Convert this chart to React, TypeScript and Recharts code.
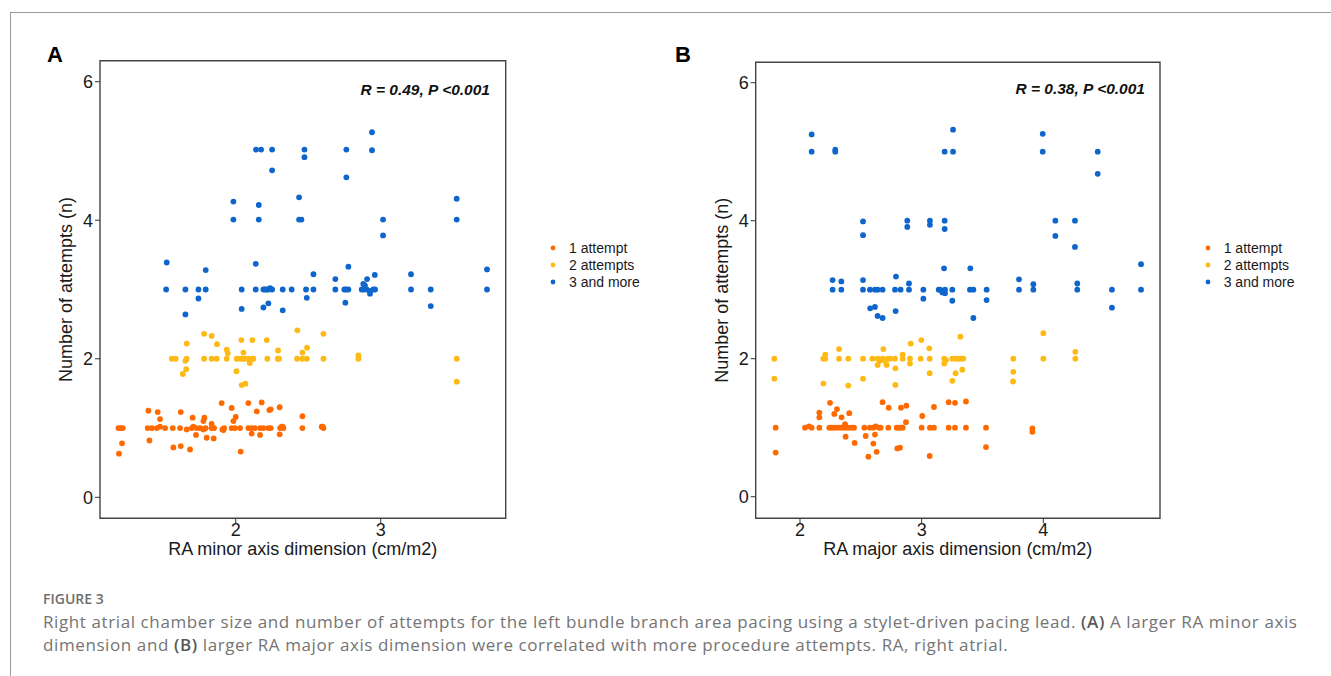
import React from 'react';
import { ScatterChart, Scatter, XAxis, YAxis, ReferenceArea, Legend } from 'recharts';

type Pair = [number, number];

// Panel A: RA minor axis dimension (cm/m2) vs number of attempts
const minorOne: Pair[] = [
  [1.191, 1], [1.207, 1], [1.221, 1], [1.393, 1], [1.421, 1], [1.455, 1], [1.478, 1.02],
  [1.513, 1], [1.566, 1], [1.616, 1], [1.662, 0.98], [1.697, 1], [1.708, 1.02], [1.731, 1],
  [1.754, 1], [1.777, 0.98], [1.793, 1], [1.834, 1], [1.851, 1], [1.908, 0.98], [1.92, 1],
  [1.972, 1], [1.995, 1], [2.03, 1], [2.087, 1], [2.11, 1], [2.133, 1], [2.168, 1],
  [2.191, 1], [2.225, 1], [2.241, 1], [2.306, 1], [2.317, 1.02], [2.329, 1], [2.46, 1],
  [2.593, 1.02], [2.605, 1],
  [1.195, 0.63], [1.216, 0.78], [1.398, 1.25], [1.405, 0.82], [1.462, 1.23], [1.478, 1.13],
  [1.57, 0.72], [1.621, 0.74], [1.621, 1.23], [1.685, 0.69], [1.703, 1.15], [1.726, 0.9],
  [1.777, 1.1], [1.784, 1.15], [1.8, 0.86], [1.834, 1.06], [1.848, 0.85], [1.903, 1.36],
  [1.915, 0.97], [1.972, 1.29], [1.984, 1.1], [2.0, 1.16], [2.034, 0.66], [2.087, 1.36],
  [2.11, 0.92], [2.145, 1.24], [2.168, 0.9], [2.179, 1.37], [2.232, 1.26], [2.241, 1.27],
  [2.303, 1.3], [2.303, 0.91], [2.324, 1.02], [2.46, 1.17], [2.6, 1.02],
];

const minorTwo: Pair[] = [
  [1.559, 2], [1.586, 2], [1.653, 1.97], [1.662, 2], [1.782, 2], [1.834, 2], [1.869, 2],
  [1.938, 2], [2.007, 2], [2.03, 2], [2.048, 2], [2.064, 2], [2.087, 2], [2.11, 2],
  [2.122, 2], [2.218, 2], [2.29, 2], [2.299, 2], [2.423, 2], [2.46, 2], [2.49, 2],
  [2.605, 2], [2.846, 2], [3.524, 2],
  [1.635, 1.78], [1.658, 1.85], [1.662, 2.22], [1.782, 2.36], [1.834, 2.33], [1.871, 2.21],
  [1.938, 2.13], [1.945, 2.08], [2.005, 1.82], [2.039, 2.27], [2.053, 2.09], [2.041, 1.62],
  [2.067, 1.64], [2.097, 1.94], [2.115, 2.27], [2.214, 2.27], [2.292, 2.12], [2.425, 2.41],
  [2.46, 2.09], [2.492, 2.16], [2.605, 2.36], [2.846, 2.05], [3.524, 1.67],
];

const minorThree: Pair[] = [
  [1.52, 3], [1.653, 3], [1.743, 3], [1.793, 3], [2.041, 3], [2.138, 3], [2.191, 3],
  [2.202, 3], [2.214, 3], [2.225, 3], [2.237, 3.02], [2.251, 3], [2.324, 3], [2.386, 3],
  [2.485, 3], [2.536, 3], [2.687, 3], [2.749, 3], [2.761, 3], [2.777, 3], [2.869, 3],
  [2.88, 3], [2.903, 3], [2.926, 2.98], [2.949, 3], [2.961, 3], [3.209, 3], [3.345, 3],
  [3.733, 3],
  [1.743, 2.87], [1.653, 2.64], [2.041, 2.72], [2.191, 2.74], [2.225, 2.8], [2.324, 2.7],
  [2.49, 2.88], [2.756, 2.81], [3.345, 2.76], [2.926, 2.94], [2.891, 3.06],
  [1.524, 3.39], [1.793, 3.28], [1.984, 4.27], [1.984, 4.01], [2.14, 5.02], [2.175, 5.02],
  [2.159, 4.22], [2.159, 4.01], [2.138, 3.37], [2.251, 5.02], [2.251, 4.72], [2.474, 5.02],
  [2.474, 4.91], [2.437, 4.33], [2.437, 4.01], [2.453, 4.01], [2.536, 3.22], [2.687, 3.15],
  [2.763, 5.02], [2.763, 4.62], [2.777, 3.33], [2.94, 5.27], [2.94, 5.01], [3.016, 4.01],
  [3.016, 3.78], [2.906, 3.15], [2.959, 3.21], [2.88, 3.08], [3.209, 3.22], [3.524, 4.31],
  [3.524, 4.01], [3.733, 3.29],
];

// Panel B: RA major axis dimension (cm/m2) vs number of attempts
const majorOne: Pair[] = [
  [1.8, 1], [2.041, 1], [2.074, 1.02], [2.096, 1], [2.159, 1], [2.241, 1], [2.26, 1],
  [2.279, 1], [2.301, 1], [2.329, 1], [2.348, 1], [2.37, 1], [2.397, 1], [2.425, 1],
  [2.444, 1], [2.529, 1], [2.575, 1], [2.603, 1], [2.622, 1.02], [2.649, 1], [2.663, 1],
  [2.726, 1], [2.795, 1], [2.808, 1], [2.83, 1], [2.844, 1], [3.0, 1], [3.068, 1],
  [3.101, 1], [3.222, 1], [3.274, 1], [3.364, 1], [3.529, 1], [3.91, 0.99], [3.91, 0.94],
  [1.8, 0.64], [2.159, 1.22], [2.159, 1.15], [2.247, 1.36], [2.282, 1.2], [2.304, 1.27],
  [2.342, 1.15], [2.37, 1.05], [2.405, 1.21], [2.375, 0.87], [2.449, 0.78], [2.54, 0.88],
  [2.562, 0.58], [2.603, 0.77], [2.616, 0.9], [2.63, 0.65], [2.679, 1.37], [2.729, 1.29],
  [2.8, 0.7], [2.822, 0.71], [2.83, 1.29], [2.874, 1.32], [2.871, 1.08], [3.005, 1.17],
  [3.066, 0.59], [3.101, 1.3], [3.222, 1.37], [3.274, 1.36], [3.364, 1.38], [3.529, 0.72],
];

const majorTwo: Pair[] = [
  [1.789, 2], [2.192, 2], [2.208, 2], [2.321, 2], [2.397, 2], [2.518, 2], [2.595, 2],
  [2.638, 2], [2.658, 1.97], [2.679, 2], [2.699, 1.97], [2.721, 2], [2.74, 2], [2.781, 2],
  [2.844, 2], [2.904, 2], [2.992, 2], [3.066, 2], [3.186, 2], [3.2, 1.98], [3.252, 2],
  [3.282, 2], [3.301, 2], [3.321, 2], [3.342, 2], [3.753, 2], [4.0, 2], [4.263, 2],
  [1.789, 1.71], [2.208, 2.06], [2.192, 1.64], [2.321, 2.14], [2.397, 1.61], [2.518, 1.71],
  [2.638, 1.91], [2.685, 2.14], [2.712, 1.91], [2.784, 1.86], [2.784, 1.62], [2.844, 2.06],
  [2.91, 2.22], [2.904, 1.93], [2.997, 2.27], [3.063, 2.15], [3.066, 1.79], [3.186, 1.93],
  [3.252, 1.68], [3.279, 1.79], [3.318, 2.32], [3.334, 1.84], [3.753, 1.81], [3.751, 1.67],
  [4.0, 2.37], [4.263, 2.1],
];

const majorThree: Pair[] = [
  [2.268, 3], [2.34, 3], [2.518, 3], [2.575, 3], [2.616, 3], [2.638, 3], [2.679, 3],
  [2.781, 3], [2.827, 3], [2.896, 3], [3.014, 3], [3.14, 3], [3.151, 3], [3.17, 2.98],
  [3.192, 3], [3.252, 3], [3.397, 3], [3.425, 3], [3.534, 3], [3.8, 3], [3.918, 3],
  [4.279, 3], [4.564, 3], [4.803, 3],
  [2.577, 2.73], [2.616, 2.75], [2.638, 2.62], [2.679, 2.59], [2.786, 2.69], [3.014, 2.87],
  [3.252, 2.84], [3.425, 2.59], [3.534, 2.85], [4.564, 2.74], [3.17, 2.96], [3.192, 2.95],
  [2.096, 5.25], [2.096, 5.0], [2.29, 5.03], [2.29, 5.0], [2.518, 3.99], [2.518, 3.79],
  [2.518, 3.14], [2.268, 3.14], [2.34, 3.12], [2.789, 3.19], [2.882, 4.0], [2.882, 3.91],
  [2.896, 3.09], [3.068, 4.0], [3.068, 3.94], [3.189, 4.0], [3.189, 3.88], [3.189, 5.0],
  [3.258, 5.32], [3.258, 5.0], [3.184, 3.31], [3.4, 3.31], [3.8, 3.15], [3.918, 3.08],
  [3.995, 5.26], [3.995, 5.0], [4.099, 4.0], [4.099, 3.78], [4.26, 4.0], [4.26, 3.62],
  [4.279, 3.09], [4.447, 5.0], [4.447, 4.68], [4.803, 3.37],
];

const groupNames = ['1 attempt', '2 attempts', '3 and more'];
const yTicks = [0, 2, 4, 6];
const minorTicks = [2, 3];
const majorTicks = [2, 3, 4];

const ORANGE = '#ff6a00';
const YELLOW = '#ffb914';
const BLUE = '#0e66cc';
const SANS = '"Liberation Sans", Arial, sans-serif';

const toPoints = (pairs: Pair[]) => pairs.map(([x, y]) => ({ x, y }));

interface PanelProps {
  left: number;
  width: number;
  margin: { top: number; right: number; bottom: number; left: number };
  xDomain: [number, number];
  yDomain: [number, number];
  xTicks: number[];
  xTitle: string;
  stat: string;
  statRight: number;
  statBaseline: number;
  legendLeft: number;
  one: Pair[];
  two: Pair[];
  three: Pair[];
}

const Panel = (p: PanelProps) => {
  const dot = (color: string) => (props: any) => (
    <circle cx={props.cx} cy={props.cy} r={2.9} fill={color} />
  );

  const renderLegend = (props: any) => (
    <div style={{ fontFamily: SANS, fontSize: 14, color: '#1a1a1a' }}>
      {(props.payload || []).map((entry: any) => (
        <div key={entry.value} style={{ display: 'flex', alignItems: 'center', height: 17 }}>
          <svg width={10} height={10}>
            <circle cx={5} cy={5} r={2.4} fill={entry.color} />
          </svg>
          <span style={{ marginLeft: 11 }}>{entry.value}</span>
        </div>
      ))}
    </div>
  );

  return (
    <div style={{ position: 'absolute', left: p.left, top: 0 }}>
      <ScatterChart width={p.width} height={570} margin={p.margin}>
        <XAxis
          type="number"
          dataKey="x"
          domain={p.xDomain}
          ticks={p.xTicks}
          allowDataOverflow
          axisLine={false}
          tickSize={5}
          tickMargin={0}
          tickLine={{ stroke: '#333' }}
          tick={{ fontSize: 18, fill: '#1a1a1a', fontFamily: SANS }}
          height={40}
          label={{
            content: (props: any) => {
              const vb = props.viewBox;
              return (
                <text
                  x={vb.x + vb.width / 2}
                  y={vb.y + 36.7}
                  textAnchor="middle"
                  fontSize={18}
                  fill="#1a1a1a"
                  fontFamily={SANS}
                >
                  {p.xTitle}
                </text>
              );
            },
          }}
        />
        <YAxis
          type="number"
          dataKey="y"
          domain={p.yDomain}
          ticks={yTicks}
          allowDataOverflow
          axisLine={false}
          tickSize={5}
          tickMargin={2}
          tickLine={{ stroke: '#333' }}
          tick={{ fontSize: 18, fill: '#1a1a1a', fontFamily: SANS }}
          width={40}
          label={{
            content: (props: any) => {
              const vb = props.viewBox;
              const bx = vb.x + vb.width - 28;
              const cy = vb.y + vb.height / 2;
              return (
                <text
                  x={bx}
                  y={cy}
                  transform={`rotate(-90, ${bx}, ${cy})`}
                  textAnchor="middle"
                  fontSize={18}
                  fill="#1a1a1a"
                  fontFamily={SANS}
                >
                  Number of attempts (n)
                </text>
              );
            },
          }}
        />
        <ReferenceArea
          x1={p.xDomain[0]}
          x2={p.xDomain[1]}
          y1={p.yDomain[0]}
          y2={p.yDomain[1]}
          fill="none"
          stroke="#444"
          strokeWidth={1.4}
          ifOverflow="visible"
          label={{
            content: (props: any) => {
              const vb = props.viewBox;
              return (
                <text
                  x={vb.x + vb.width - p.statRight}
                  y={vb.y + p.statBaseline}
                  textAnchor="end"
                  fontSize={15.5}
                  fontWeight="bold"
                  fontStyle="italic"
                  fill="#111"
                  fontFamily={SANS}
                >
                  {p.stat}
                </text>
              );
            },
          }}
        />
        <Scatter name={groupNames[0]} data={toPoints(p.one)} fill={ORANGE} shape={dot(ORANGE)} isAnimationActive={false} />
        <Scatter name={groupNames[1]} data={toPoints(p.two)} fill={YELLOW} shape={dot(YELLOW)} isAnimationActive={false} />
        <Scatter name={groupNames[2]} data={toPoints(p.three)} fill={BLUE} shape={dot(BLUE)} isAnimationActive={false} />
        <Legend
          layout="vertical"
          align="center"
          verticalAlign="middle"
          content={renderLegend}
          wrapperStyle={{ left: p.legendLeft, top: 239.5, width: 'auto' }}
        />
      </ScatterChart>
    </div>
  );
};

export default function App() {
  return (
    <div
      style={{
        position: 'absolute',
        left: 0,
        top: 0,
        width: 1331,
        height: 676,
        background: '#fff',
        overflow: 'hidden',
      }}
    >
      <div style={{ position: 'absolute', left: 10, top: 12, right: 0, borderTop: '1px solid #9a9a9a' }} />
      <div style={{ position: 'absolute', left: 10, top: 12, bottom: 0, borderLeft: '1px solid #9a9a9a' }} />

      <Panel
        left={0}
        width={680}
        margin={{ top: 60.7, right: 174.3, bottom: 11.7, left: 60 }}
        xDomain={[1.064, 3.862]}
        yDomain={[-0.303, 6.303]}
        xTicks={minorTicks}
        xTitle="RA minor axis dimension (cm/m2)"
        stat="R = 0.49, P <0.001"
        statRight={15.7}
        statBaseline={34.3}
        legendLeft={548}
        one={minorOne}
        two={minorTwo}
        three={minorThree}
      />
      <Panel
        left={660}
        width={671}
        margin={{ top: 62.3, right: 171, bottom: 11.7, left: 55.7 }}
        xDomain={[1.636, 4.959]}
        yDomain={[-0.313, 6.296]}
        xTicks={majorTicks}
        xTitle="RA major axis dimension (cm/m2)"
        stat="R = 0.38, P <0.001"
        statRight={15}
        statBaseline={31.7}
        legendLeft={542.7}
        one={majorOne}
        two={majorTwo}
        three={majorThree}
      />

      <div style={{ position: 'absolute', left: 47, top: 44, fontFamily: SANS, fontWeight: 'bold', fontSize: 22, lineHeight: '22px', color: '#000' }}>A</div>
      <div style={{ position: 'absolute', left: 675, top: 43.5, fontFamily: SANS, fontWeight: 'bold', fontSize: 22, lineHeight: '22px', color: '#000' }}>B</div>

      <div
        style={{
          position: 'absolute',
          left: 43,
          top: 588.6,
          fontFamily: '"Open Sans", sans-serif',
          fontSize: 14,
          lineHeight: '20px',
          fontWeight: 600,
          color: '#6e6e6e',
        }}
      >
        FIGURE 3
      </div>
      <div
        style={{
          position: 'absolute',
          left: 43,
          top: 610,
          fontFamily: '"Open Sans", sans-serif',
          fontSize: 17,
          letterSpacing: 0.6,
          lineHeight: '23px',
          color: '#747474',
          whiteSpace: 'nowrap',
        }}
      >
        <div>
          Right atrial chamber size and number of attempts for the left bundle branch area pacing using a
          stylet-driven pacing lead. <b style={{ fontWeight: 600, color: '#585858' }}>(A)</b> A larger RA minor axis
        </div>
        <div>
          dimension and <b style={{ fontWeight: 600, color: '#585858' }}>(B)</b> larger RA major axis dimension were
          correlated with more procedure attempts. RA, right atrial.
        </div>
      </div>
    </div>
  );
}
